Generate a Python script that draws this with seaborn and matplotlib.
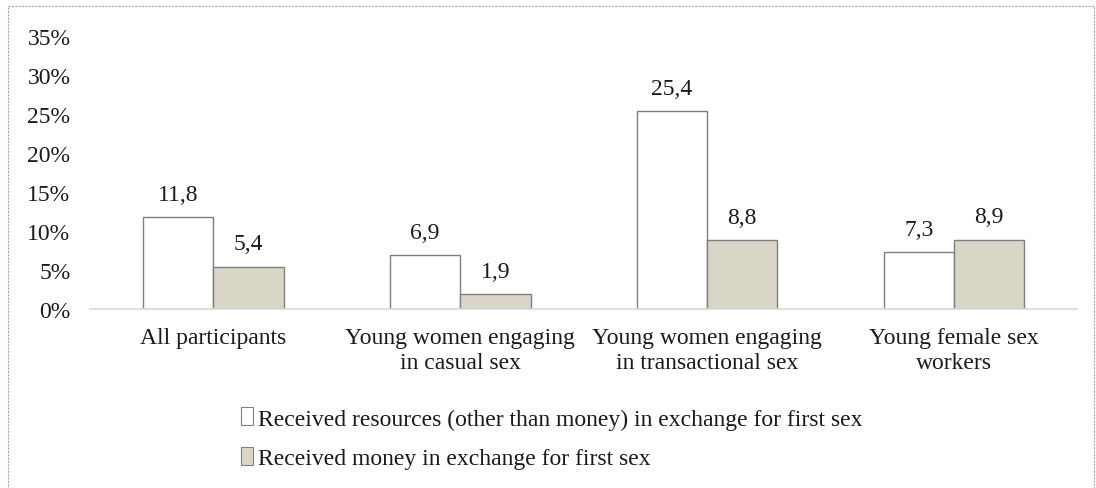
import matplotlib.pyplot as plt
import matplotlib.patches as mpatches
import seaborn as sns
import pandas as pd

# Data
groups = ["All participants",
          "Young women engaging\nin casual sex",
          "Young women engaging\nin transactional sex",
          "Young female sex\nworkers"]
series = ["Received resources (other than money) in exchange for first sex",
          "Received money in exchange for first sex"]
resources = [11.8, 6.9, 25.4, 7.3]
money = [5.4, 1.9, 8.8, 8.9]
yticks = [0, 5, 10, 15, 20, 25, 30, 35]

df = pd.DataFrame({
    "group": groups * 2,
    "series": [series[0]] * 4 + [series[1]] * 4,
    "value": resources + money,
})

sns.set_theme(style="white")
plt.rcParams["font.family"] = ["Liberation Serif", "DejaVu Serif"]
fs = 17
txt = "#1a1a1a"

fig = plt.figure(figsize=(10.96, 4.89), dpi=100)
ax = fig.add_axes([0.082, 0.366, 0.901, 0.558])

palette = {series[0]: "#FFFFFF", series[1]: "#DDD8C4"}
sns.barplot(data=df, x="group", y="value", hue="series", palette=palette,
            width=0.57, edgecolor="#7F7F7F", linewidth=1.0, ax=ax, legend=False)

for cont in ax.containers:
    ax.bar_label(cont, labels=[f"{v:.1f}".replace(".", ",") for v in cont.datavalues],
                 padding=9, fontsize=fs, color=txt)

ax.set_ylim(0, 35)
ax.set_yticks(yticks)
ax.set_yticklabels([f"{t}%" for t in yticks], fontsize=fs, color=txt)
ax.tick_params(axis="x", labelsize=fs, colors=txt, length=0, pad=13)
ax.tick_params(axis="y", length=0, pad=14)
for lbl in ax.get_xticklabels():
    lbl.set_linespacing(1.25)
ax.set_xlabel("")
ax.set_ylabel("")
for s in ["top", "right", "left"]:
    ax.spines[s].set_visible(False)
ax.spines["bottom"].set_color("#D9D9D9")
ax.spines["bottom"].set_linewidth(1.2)
ax.set_xlim(-0.5, 3.5)

handles = [mpatches.Patch(facecolor=palette[s], edgecolor="#7F7F7F", linewidth=0.8, label=s)
           for s in series]
fig.legend(handles=handles, loc="upper left", bbox_to_anchor=(0.220, 0.165),
           frameon=False, fontsize=fs, handlelength=0.5, handleheight=0.8,
           handletextpad=0.2, labelspacing=0.75, borderaxespad=0, borderpad=0,
           labelcolor=txt)

# dashed outer border
border = mpatches.Rectangle((0.0073, -0.01), 0.991, 0.996, transform=fig.transFigure,
                            fill=False, edgecolor="#A6A6A6", linestyle=(0, (2, 1)),
                            linewidth=0.8)
fig.patches.append(border)

fig.savefig("out.png", dpi=100)
